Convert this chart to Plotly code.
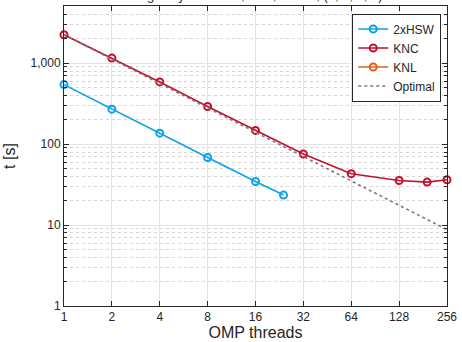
import plotly.graph_objects as go
import numpy as np

hsw_threads = [1, 2, 4, 8, 16, 24]
hsw_time = [545, 271, 137, 68.4, 34.6, 23.5]
knc_threads = [1, 2, 4, 8, 16, 32, 64, 128, 192, 256]
knc_time = [2250, 1159, 588, 292, 148, 75.6, 43.2, 35.6, 34.0, 36.3]
knl_threads = [None]
knl_time = [None]
opt_threads = [1, 256]
opt_time = [knc_time[0] / t for t in opt_threads]

x_ticks = [1, 2, 4, 8, 16, 32, 64, 128, 256]
y_ticks = [1, 10, 100, 1000]
y_ticktext = ["1", "10", "100", "1,000"]

FONT = "Liberation Sans, Arial, sans-serif"
BLUE = "#0DA2E2"
RED = "#C3102C"
ORANGE = "#E0611A"

fig = go.Figure()
mk = dict(symbol="circle-open", size=7, line=dict(width=2))
fig.add_trace(go.Scatter(x=hsw_threads, y=hsw_time, name="2xHSW", mode="lines+markers",
                         line=dict(color=BLUE, width=1.6), marker=dict(color=BLUE, **mk),
                         cliponaxis=False))
fig.add_trace(go.Scatter(x=knc_threads, y=knc_time, name="KNC", mode="lines+markers",
                         line=dict(color=RED, width=1.6), marker=dict(color=RED, **mk),
                         cliponaxis=False))
fig.add_trace(go.Scatter(x=knl_threads, y=knl_time, name="KNL", mode="lines+markers",
                         line=dict(color=ORANGE, width=1.6), marker=dict(color=ORANGE, **mk),
                         showlegend=True))
fig.add_trace(go.Scatter(x=opt_threads, y=opt_time, name="Optimal", mode="lines",
                         line=dict(color="#7a7a7a", width=1.6, dash="dot")))

fig.update_layout(
    width=462, height=342,
    margin=dict(l=64, r=15, t=5, b=32),
    paper_bgcolor="white", plot_bgcolor="white",
    font=dict(family=FONT, size=13, color="#262626"),
    title=dict(text="Single layer FullNet, float, 50000, (1, 1, 1, 1)",
               x=0.553, xanchor="center", y=1.0, yanchor="bottom",
               yref="container", font=dict(size=13, color="#262626")),
    showlegend=True,
    legend=dict(x=0.985, y=0.975, xanchor="right", yanchor="top",
                bgcolor="white", bordercolor="#262626", borderwidth=1,
                font=dict(size=12), tracegroupgap=0, itemwidth=30,
                traceorder="normal"),
    xaxis=dict(type="log", range=[0, np.log10(256)], tickvals=x_ticks,
               ticktext=[str(v) for v in x_ticks],
               ticks="inside", ticklen=5, tickcolor="#262626",
               showline=True, linecolor="#262626", linewidth=1, mirror="ticks",
               showgrid=True, gridcolor="#e3e3e3", gridwidth=1,
               zeroline=False, title=dict(text="OMP threads", standoff=1),
               tickfont=dict(size=12)),
    yaxis=dict(type="log", range=[0, 3.708], tickvals=y_ticks, ticktext=y_ticktext,
               ticks="inside", ticklen=5, tickcolor="#262626",
               showline=True, linecolor="#262626", linewidth=1, mirror="ticks",
               showgrid=True, gridcolor="#e3e3e3", gridwidth=1,
               zeroline=False, title=dict(text="t [s]", standoff=10),
               tickfont=dict(size=12),
               minor=dict(dtick="D1", ticks="inside", ticklen=3, tickcolor="#262626",
                          showgrid=True, gridcolor="#d6d6d6", griddash="dot", gridwidth=1)),
)

fig.write_html("out.html")
